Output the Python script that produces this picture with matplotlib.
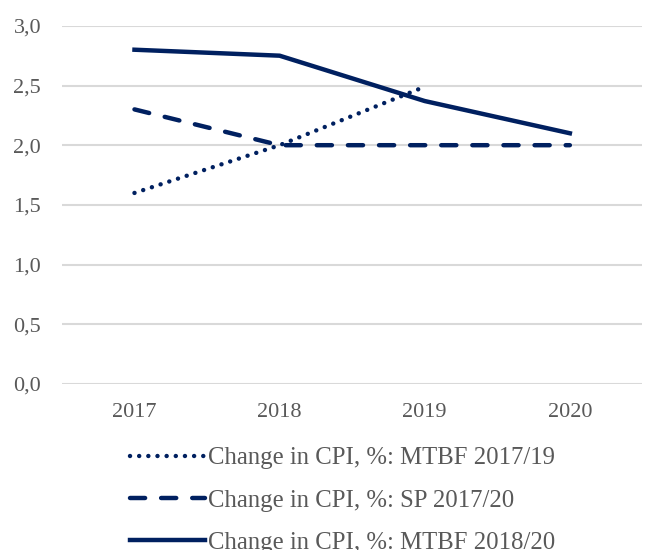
import numpy as np
import matplotlib.pyplot as plt
from matplotlib.ticker import FuncFormatter

years = ['2017', '2018', '2019', '2020']
mtbf_2017_19 = [1.6, 2.0, 2.49]
sp_2017_20 = [2.3, 2.0, 2.0, 2.0]
mtbf_2018_20 = [2.8, 2.75, 2.37, 2.1]
labels = ['Change in CPI, %: MTBF 2017/19',
          'Change in CPI, %: SP 2017/20',
          'Change in CPI, %: MTBF 2018/20']

plt.rcParams['font.family'] = ['Liberation Serif', 'DejaVu Serif']
navy = '#002060'
grey = '#595959'

fig = plt.figure(figsize=(6.45, 5.5), dpi=100)
ax = fig.add_axes([0.096, 0.302, 0.9, 0.651])

x = np.arange(len(years))
lw = 3.2
ax.plot(x[:3], mtbf_2017_19, color=navy, lw=lw, linestyle=(0, (0.01, 2.05)),
        dash_capstyle='round', label=labels[0])
ax.plot(x, sp_2017_20, color=navy, lw=lw, linestyle=(0, (3.4, 3.6)),
        dash_capstyle='round', label=labels[1])
ax.plot(x, mtbf_2018_20, color=navy, lw=lw, label=labels[2])

ax.set_xlim(-0.5, 3.5)
ax.set_ylim(0, 3.0)
ax.set_yticks(np.arange(0, 3.01, 0.5))
ax.yaxis.set_major_formatter(FuncFormatter(lambda v, p: f'{v:.1f}'.replace('.', ',')))
ax.set_xticks(x)
ax.set_xticklabels(years)
ax.grid(axis='y', color='#d9d9d9', lw=1.5)
ax.set_axisbelow(True)
for s in ax.spines.values():
    s.set_visible(False)
ax.tick_params(length=0, labelsize=16, labelcolor=grey)
ax.tick_params(axis='x', pad=14)
ax.tick_params(axis='y', pad=15)

fig.legend(loc='upper left', bbox_to_anchor=(0.2016, 0.187), frameon=False,
           fontsize=17.8, labelcolor=grey, handlelength=3.05, handletextpad=0.12,
           labelspacing=0.8, borderaxespad=0, borderpad=0)

fig.savefig('out.png', dpi=100)
